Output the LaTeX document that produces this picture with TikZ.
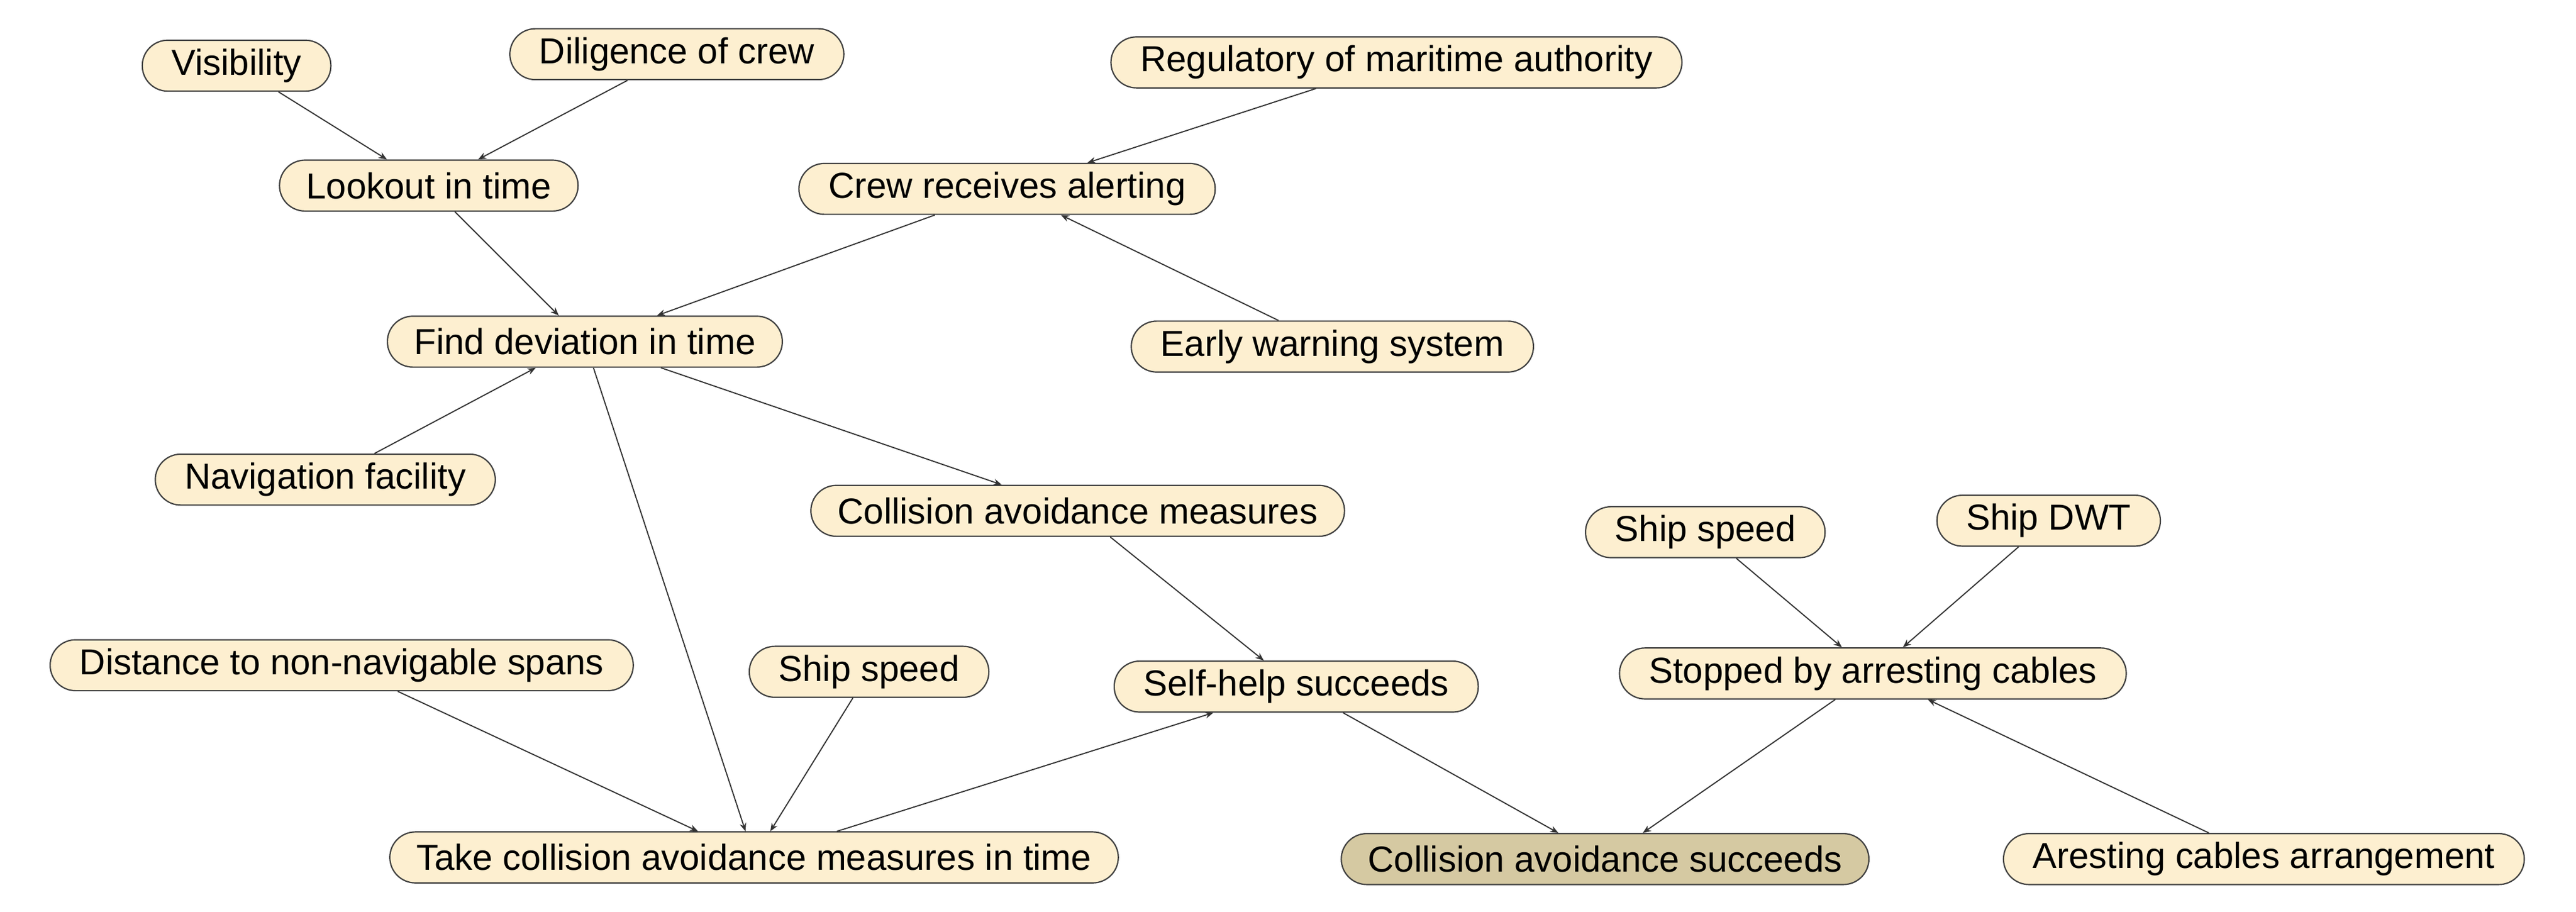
\documentclass[tikz,border=0pt]{standalone}
\usepackage{fontspec}
\setmainfont{Liberation Sans}
\usetikzlibrary{shapes.misc,arrows.meta}
\definecolor{cream}{HTML}{FDEFD0}
\definecolor{dark}{HTML}{D5C9A2}
\begin{document}
\begin{tikzpicture}[x=0.5pt,y=-0.5pt,
  n/.style={rounded rectangle,draw=black!75,line width=0.4pt,fill=cream,font=\fontsize{11}{12}\selectfont,minimum height=15.5pt,inner xsep=7pt,inner ysep=0pt},
  e/.style={draw=black!80,line width=0.35pt,-{Stealth[length=2.5pt,width=2pt]}}]
\useasboundingbox (0,0) rectangle (1568,555);
\node[n] (vis) at (144,40) {Visibility};
\node[n] (dil) at (412,33) {Diligence of crew};
\node[n] (reg) at (850,38) {Regulatory of maritime authority};
\node[n] (look) at (261,113) {Lookout in time};
\node[n] (crew) at (613,115) {Crew receives alerting};
\node[n] (find) at (356,208) {Find deviation in time};
\node[n] (ews) at (811,211) {Early warning system};
\node[n] (nav) at (198,292) {Navigation facility};
\node[n] (cam) at (656,311) {Collision avoidance measures};
\node[n] (ssr) at (1038,324) {Ship speed};
\node[n] (dwt) at (1247,317) {Ship DWT};
\node[n] (dist) at (208,405) {Distance to non-navigable spans};
\node[n] (ss) at (529,409) {Ship speed};
\node[n] (self) at (789,418) {Self-help succeeds};
\node[n] (stop) at (1140,410) {Stopped by arresting cables};
\node[n] (take) at (459,522) {Take collision avoidance measures in time};
\node[n,fill=dark] (succ) at (977,523) {Collision avoidance succeeds};
\node[n] (arr) at (1378,523) {Aresting cables arrangement};
\draw[e] (vis) -- (look);
\draw[e] (dil) -- (look);
\draw[e] (reg) -- (crew);
\draw[e] (look) -- (find);
\draw[e] (crew) -- (find);
\draw[e] (ews) -- (crew);
\draw[e] (nav) -- (find);
\draw[e] (find) -- (cam);
\draw[e] (find) -- (take);
\draw[e] (cam) -- (self);
\draw[e] (dist) -- (take);
\draw[e] (ss) -- (take);
\draw[e] (take) -- (self);
\draw[e] (self) -- (succ);
\draw[e] (ssr) -- (stop);
\draw[e] (dwt) -- (stop);
\draw[e] (stop) -- (succ);
\draw[e] (arr) -- (stop);
\end{tikzpicture}
\end{document}
